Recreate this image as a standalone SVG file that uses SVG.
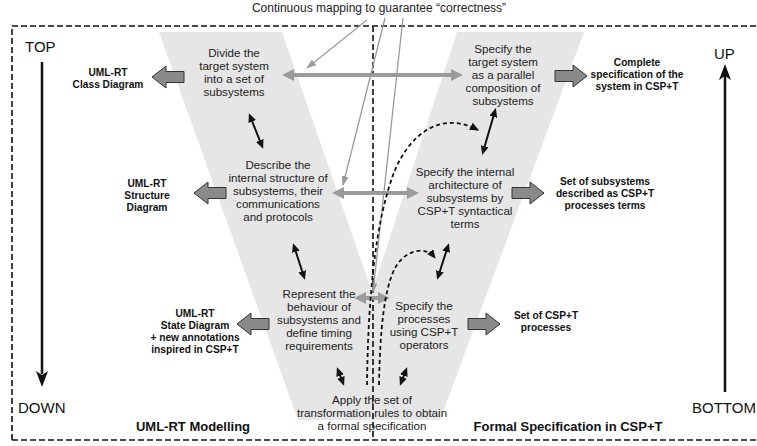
<svg xmlns="http://www.w3.org/2000/svg" width="757" height="446" viewBox="0 0 757 446">
<defs>
<style>
text{font-family:"Liberation Sans",Arial,sans-serif}
.t{font-size:11.6px;fill:#222;text-anchor:middle}
.b{font-size:10.2px;font-weight:bold;fill:#111;text-anchor:middle}
.h{font-size:13px;font-weight:bold;fill:#111;text-anchor:middle}
.big{font-size:15px;fill:#111}
.ttl{font-size:12px;fill:#222;text-anchor:middle}
.border{fill:none;stroke:#111;stroke-width:1.6;stroke-dasharray:6,3}
.blk{fill:none;stroke:#111;stroke-width:2;marker-start:url(#bh);marker-end:url(#bh)}
.gth{fill:none;stroke:#9b9b9b;stroke-width:4;marker-start:url(#gh);marker-end:url(#gh)}
.gtn{fill:none;stroke:#9a9a9a;stroke-width:1.3;marker-end:url(#gn)}
.dc{fill:none;stroke:#111;stroke-width:1.8;stroke-dasharray:4,3;marker-end:url(#dh)}
.ba{fill:#8a8a8a;stroke:#333;stroke-width:1}
.vl{stroke:#111;stroke-width:2.5}
</style>
<marker id="bh" markerUnits="userSpaceOnUse" markerWidth="9" markerHeight="8" refX="6" refY="4" orient="auto-start-reverse" viewBox="0 0 9 8"><path d="M0,0 L9,4 L0,8 z" fill="#111"/></marker>
<marker id="gh" markerUnits="userSpaceOnUse" markerWidth="12" markerHeight="12" refX="0" refY="6" orient="auto-start-reverse" viewBox="0 0 12 12"><path d="M0,0 L12,6 L0,12 z" fill="#9b9b9b"/></marker>
<marker id="gn" markerUnits="userSpaceOnUse" markerWidth="10" markerHeight="7" refX="9" refY="3.5" orient="auto" viewBox="0 0 10 7"><path d="M0,0 L10,3.5 L0,7 z" fill="#9a9a9a"/></marker>
<marker id="dh" markerUnits="userSpaceOnUse" markerWidth="9" markerHeight="8" refX="8" refY="4" orient="auto" viewBox="0 0 9 8"><path d="M0,0 L9,4 L0,8 z" fill="#111"/></marker>
<path id="al" d="M0,0 L14,-11 L14,-5.5 L32,-5.5 L32,5.5 L14,5.5 L14,11 z"/>
<path id="ar" d="M0,0 L-14,-11 L-14,-5.5 L-32,-5.5 L-32,5.5 L-14,5.5 L-14,11 z"/>
</defs>

<rect width="757" height="446" fill="#fff"/>

<!-- V shape background -->
<polygon points="159,32 282,32 372,292 457,32 584,32 440,420 298,420" fill="#e6e6e6"/>

<!-- frame -->
<g id="frame">
<path class="border" d="M12,440 L12,26 L757,26"/>
<path class="border" d="M12,440 L757,440"/>
<path class="border" d="M373,26 L373,440"/>
</g>

<text class="ttl" x="379" y="12">Continuous mapping to guarantee “correctness”</text>

<!-- side axes -->
<g id="axis-left">
<text class="big" x="25" y="52">TOP</text>
<line class="vl" x1="42" y1="62" x2="42" y2="374"/>
<path d="M36,371 L42,387 L48,371 L42,375 z" fill="#111"/>
<text class="big" x="18" y="413">DOWN</text>
</g>
<g id="axis-right">
<text class="big" x="714" y="59">UP</text>
<line class="vl" x1="725" y1="392" x2="725" y2="76"/>
<path d="M719,80 L725,64 L731,80 L725,76 z" fill="#111"/>
<text class="big" x="692" y="413">BOTTOM</text>
</g>

<!-- left column nodes -->
<g id="n-divide">
<text class="t" x="234" y="57">Divide the</text>
<text class="t" x="234" y="70">target system</text>
<text class="t" x="234" y="83">into a set of</text>
<text class="t" x="234" y="96">subsystems</text>
</g>
<g id="n-describe">
<text class="t" x="278" y="169">Describe the</text>
<text class="t" x="278" y="182">internal structure of</text>
<text class="t" x="278" y="195">subsystems, their</text>
<text class="t" x="278" y="208">communications</text>
<text class="t" x="278" y="221">and protocols</text>
</g>
<g id="n-represent">
<text class="t" x="319" y="298">Represent the</text>
<text class="t" x="319" y="311">behaviour of</text>
<text class="t" x="319" y="324">subsystems and</text>
<text class="t" x="319" y="337">define timing</text>
<text class="t" x="319" y="350">requirements</text>
</g>
<g id="n-apply">
<text class="t" x="372" y="404">Apply the set of</text>
<text class="t" x="372" y="417">transformation rules to obtain</text>
<text class="t" x="372" y="430">a formal specification</text>
</g>

<!-- right column nodes -->
<g id="n-specify-top">
<text class="t" x="503" y="53">Specify the</text>
<text class="t" x="503" y="66">target system</text>
<text class="t" x="503" y="79">as a parallel</text>
<text class="t" x="503" y="92">composition of</text>
<text class="t" x="503" y="105">subsystems</text>
</g>
<g id="n-specify-internal">
<text class="t" x="465" y="176">Specify the internal</text>
<text class="t" x="465" y="189">architecture of</text>
<text class="t" x="465" y="202">subsystems by</text>
<text class="t" x="465" y="215">CSP+T syntactical</text>
<text class="t" x="465" y="228">terms</text>
</g>
<g id="n-specify-proc">
<text class="t" x="424" y="310">Specify the</text>
<text class="t" x="424" y="323">processes</text>
<text class="t" x="424" y="336">using CSP+T</text>
<text class="t" x="424" y="349">operators</text>
</g>

<!-- output artefacts -->
<g id="o-class">
<use href="#al" class="ba" x="152" y="77"/>
<text class="b" x="108" y="76">UML-RT</text>
<text class="b" x="108" y="88">Class Diagram</text>
</g>
<g id="o-structure">
<use href="#al" class="ba" x="194" y="193"/>
<text class="b" x="147" y="187">UML-RT</text>
<text class="b" x="147" y="199">Structure</text>
<text class="b" x="147" y="211">Diagram</text>
</g>
<g id="o-state">
<use href="#al" class="ba" x="237" y="324"/>
<text class="b" x="195" y="317">UML-RT</text>
<text class="b" x="195" y="329">State Diagram</text>
<text class="b" x="195" y="341">+ new annotations</text>
<text class="b" x="195" y="353">inspired in CSP+T</text>
</g>
<g id="o-complete">
<use href="#ar" class="ba" x="587" y="76"/>
<text class="b" x="637" y="66">Complete</text>
<text class="b" x="637" y="78">specification of the</text>
<text class="b" x="637" y="90">system in CSP+T</text>
</g>
<g id="o-subsystems">
<use href="#ar" class="ba" x="544" y="193"/>
<text class="b" x="605" y="185">Set of subsystems</text>
<text class="b" x="605" y="197">described as CSP+T</text>
<text class="b" x="605" y="209">processes terms</text>
</g>
<g id="o-processes">
<use href="#ar" class="ba" x="500" y="324"/>
<text class="b" x="546" y="319">Set of CSP+T</text>
<text class="b" x="546" y="331">processes</text>
</g>

<!-- section titles -->
<text class="h" x="193" y="431">UML-RT Modelling</text>
<text class="h" x="568" y="431">Formal Specification in CSP+T</text>

<!-- connectors -->
<g id="connectors">
<line class="gth" x1="294" y1="75" x2="451" y2="75"/>
<line class="gth" x1="344" y1="193" x2="407" y2="193"/>
<line class="gth" x1="366" y1="298" x2="378" y2="298"/>

<line class="gtn" x1="367" y1="20" x2="307" y2="68"/>
<line class="gtn" x1="385" y1="18" x2="343" y2="185"/>
<line class="gtn" x1="403" y1="18" x2="373" y2="292"/>

<line class="blk" x1="250" y1="116" x2="262" y2="146"/>
<line class="blk" x1="294" y1="246" x2="304" y2="277"/>
<line class="blk" x1="338" y1="370" x2="343" y2="383"/>
<line class="blk" x1="495" y1="111" x2="483" y2="152"/>
<line class="blk" x1="448" y1="246" x2="438" y2="277"/>
<line class="blk" x1="406" y1="370" x2="401" y2="383"/>

<path class="dc" d="M367,385 C368,300 375,220 395,170 C410,135 440,110 478,130"/>
<path class="dc" d="M379,385 C380,330 384,290 395,268 C405,250 425,245 435,258"/>
</g>
</svg>
